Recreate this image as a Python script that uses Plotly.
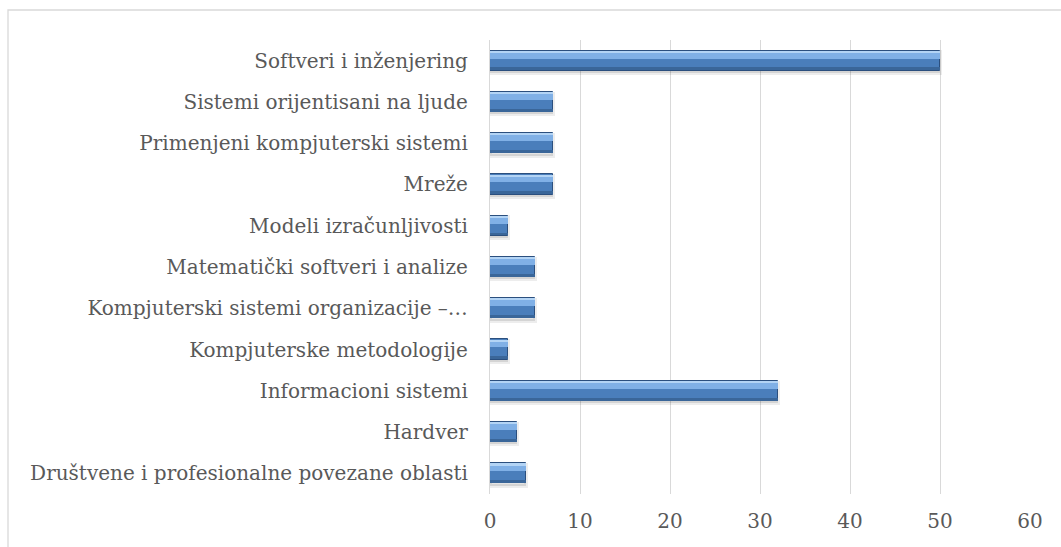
import plotly.graph_objects as go

categories = [
    "Društvene i profesionalne povezane oblasti",
    "Hardver",
    "Informacioni sistemi",
    "Kompjuterske metodologije",
    "Kompjuterski sistemi organizacije –…",
    "Matematički softveri i analize",
    "Modeli izračunljivosti",
    "Mreže",
    "Primenjeni kompjuterski sistemi",
    "Sistemi orijentisani na ljude",
    "Softveri i inženjering",
]
values = [4, 3, 32, 2, 5, 5, 2, 7, 7, 7, 50]
x_ticks = [0, 10, 20, 30, 40, 50, 60]

W, H = 1061, 547
L, R, T, B = 490, 31, 40, 53
pw, ph = W - L - R, H - T - B

FONT = "DejaVu Serif"
FS = 20
fig = go.Figure()

# soft shadow
fig.add_trace(go.Bar(y=categories, x=values, orientation="h", width=0.5, offset=-0.3,
                     marker=dict(color="rgba(0,0,0,0.10)", line=dict(color="rgba(0,0,0,0.07)", width=4)),
                     hoverinfo="skip", showlegend=False))
# main bar
fig.add_trace(go.Bar(y=categories, x=values, orientation="h", width=0.49, offset=-0.245,
                     marker=dict(color="#4A7EBB", line=dict(color="#2B4F7E", width=1)),
                     showlegend=False))
# bevel highlights / shading
fig.add_trace(go.Bar(y=categories, x=values, orientation="h", width=0.05, offset=0.19,
                     marker=dict(color="#B3D4F5", line=dict(width=0)), hoverinfo="skip", showlegend=False))
fig.add_trace(go.Bar(y=categories, x=values, orientation="h", width=0.14, offset=0.05,
                     marker=dict(color="#80B0E6", line=dict(width=0)), hoverinfo="skip", showlegend=False))
fig.add_trace(go.Bar(y=categories, x=values, orientation="h", width=0.07, offset=-0.235,
                     marker=dict(color="#3A6699", line=dict(width=0)), hoverinfo="skip", showlegend=False))

fig.update_layout(
    width=W, height=H,
    margin=dict(l=L, r=R, t=T, b=B),
    paper_bgcolor="white", plot_bgcolor="white",
    barmode="overlay",
    bargap=0,
    font=dict(family=FONT, size=FS, color="#595959"),
    xaxis=dict(range=[0, 60], tickvals=x_ticks, showgrid=True, gridcolor="#D9D9D9", gridwidth=1.3,
               zeroline=False, showline=False, ticks="", ticklabelstandoff=13,
               tickfont=dict(family=FONT, size=FS, color="#595959"), fixedrange=True),
    yaxis=dict(type="category", categoryorder="array", categoryarray=categories,
               showgrid=False, zeroline=False, showline=True, linecolor="#D9D9D9", linewidth=1.3,
               ticks="", ticklabelstandoff=17,
               tickfont=dict(family=FONT, size=FS, color="#595959"), fixedrange=True),
    shapes=[dict(type="rect", xref="paper", yref="paper",
                 x0=(8 - L) / pw, x1=(1070 - L) / pw,
                 y0=-(570 - (H - B)) / ph,
                 y1=((H - B) - 10) / ph,
                 line=dict(color="#D9D9D9", width=1.3), layer="below")],
)

fig.write_html("out.html", config={"displayModeBar": False},
               post_script="document.body.style.margin='0px';")
